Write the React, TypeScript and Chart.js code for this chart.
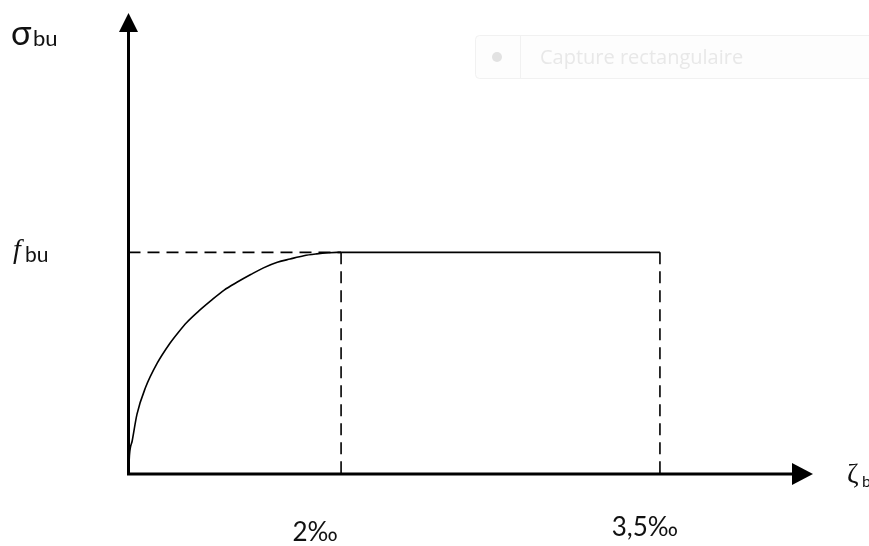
import React, { useEffect, useRef } from "react";
import { Chart, registerables, LinearScale } from "chart.js";

// ---- data (strain in ‰, stress as fraction of fbu) ----
const curveStrain = [0, 0.01, 0.035, 0.08, 0.16, 0.27, 0.39, 0.47, 0.55, 0.66, 0.77, 0.9, 1.02, 1.15, 1.27, 1.4, 1.52, 1.65, 1.77, 1.88, 1.96, 2];
const curveStress = [0, 0.09, 0.15, 0.27, 0.39, 0.5, 0.59, 0.64, 0.685, 0.735, 0.78, 0.83, 0.865, 0.9, 0.93, 0.955, 0.97, 0.985, 0.993, 0.998, 1.0, 1];
const plateauStrain = [2, 3.5];
const plateauStress = [1, 1];
const xTickValues = [2, 3.5];
const xTickLabels = ["2‰", "3,5‰"];
const yTickValue = 1;
const X_AXIS_END = 4.22;
const Y_AXIS_END = 2.08;

// schematic axis: beyond 2‰ the drawing is stretched
const SPLIT = 2;
const STRETCH = 2;
const warp = (v: number) => (v <= SPLIT ? v : SPLIT + (v - SPLIT) * STRETCH);

class WarpScale extends LinearScale {
  static id = "warp";
  static defaults = LinearScale.defaults;
  getPixelForValue(value: number) {
    return super.getPixelForValue(warp(value));
  }
}

Chart.register(...registerables, WarpScale);

const pts = (xs: number[], ys: number[]) => xs.map((x, i) => ({ x, y: ys[i] }));

const drawPlugin = {
  id: "schematic",
  beforeDraw(chart: any) {
    const ctx = chart.ctx;
    ctx.save();
    // faint ghost "capture" toolbar
    ctx.fillStyle = "#fdfdfd";
    ctx.strokeStyle = "#f1f1f1";
    ctx.lineWidth = 1;
    ctx.beginPath();
    ctx.roundRect(475.5, 35.5, 420, 43, 4);
    ctx.fill();
    ctx.stroke();
    ctx.beginPath();
    ctx.moveTo(520.5, 36);
    ctx.lineTo(520.5, 78);
    ctx.stroke();
    ctx.fillStyle = "#e2e2e2";
    ctx.beginPath();
    ctx.arc(497, 57, 5, 0, Math.PI * 2);
    ctx.fill();
    ctx.fillStyle = "#e8e8e8";
    ctx.font = '20px "Open Sans"';
    ctx.textBaseline = "alphabetic";
    ctx.fillText("Capture rectangulaire", 540, 64);
    ctx.restore();
  },
  afterDatasetsDraw(chart: any) {
    const ctx = chart.ctx;
    const xs = chart.scales.x;
    const ys = chart.scales.y;
    const x0 = xs.getPixelForValue(0);
    const y0 = ys.getPixelForValue(0);
    const xEnd = xs.getPixelForValue(X_AXIS_END);
    const yEnd = ys.getPixelForValue(Y_AXIS_END);
    ctx.save();
    ctx.strokeStyle = "#000";
    ctx.fillStyle = "#000";
    ctx.lineWidth = 3;
    ctx.setLineDash([]);
    // axes
    ctx.beginPath();
    ctx.moveTo(x0, y0 + 1);
    ctx.lineTo(x0, yEnd + 15);
    ctx.moveTo(x0 - 1.5, y0);
    ctx.lineTo(xEnd - 16, y0);
    ctx.stroke();
    // arrowheads
    ctx.beginPath();
    ctx.moveTo(x0, yEnd);
    ctx.lineTo(x0 - 9.5, yEnd + 19);
    ctx.lineTo(x0 + 9.5, yEnd + 19);
    ctx.closePath();
    ctx.fill();
    ctx.beginPath();
    ctx.moveTo(xEnd, y0);
    ctx.lineTo(xEnd - 21, y0 - 11);
    ctx.lineTo(xEnd - 21, y0 + 11);
    ctx.closePath();
    ctx.fill();

    // labels
    ctx.textBaseline = "alphabetic";
    ctx.fillStyle = "#111";
    ctx.textAlign = "left";
    ctx.font = '34px "Lato"';
    ctx.fillText("σ", 11, 45);
    ctx.font = '22px "Lato"';
    ctx.fillText("bu", 33, 46);

    const yf = ys.getPixelForValue(yTickValue);
    ctx.font = 'italic 28px "Liberation Serif"';
    ctx.fillText("f", 13, yf + 6);
    ctx.font = '21px "Lato"';
    ctx.fillText("bu", 25, yf + 10);

    ctx.textAlign = "center";
    ctx.font = '26px "Lato"';
    const offsX = [-26, -15];
    const offsY = [67, 62];
    xTickValues.forEach((v, i) => {
      const px = xs.getPixelForValue(v);
      ctx.fillText(xTickLabels[i], px + offsX[i], y0 + offsY[i]);
    });

    ctx.textAlign = "left";
    ctx.font = '28px "Liberation Serif"';
    ctx.fillText("ζ", 847, y0 + 9);
    ctx.font = '16px "Lato"';
    ctx.fillText("bc", 862, y0 + 13);
    ctx.restore();
  },
};

export default function App() {
  const ref = useRef<HTMLCanvasElement>(null);
  useEffect(() => {
    if (!ref.current) return;
    const line = { borderColor: "#000", borderWidth: 1.6, pointRadius: 0, fill: false, clip: false as any };
    const dash = { ...line, borderDash: [12, 7] };
    const chart = new Chart(ref.current, {
      type: "line",
      data: {
        datasets: [
          { ...line, data: pts(curveStrain, curveStress), cubicInterpolationMode: "monotone" },
          { ...line, data: pts(plateauStrain, plateauStress) },
          { ...dash, data: pts([0, xTickValues[0]], [yTickValue, yTickValue]) },
          { ...dash, data: pts([xTickValues[0], xTickValues[0]], [yTickValue, 0]) },
          { ...dash, data: pts([xTickValues[1], xTickValues[1]], [yTickValue, 0]) },
        ],
      },
      options: {
        animation: false,
        responsive: false,
        events: [],
        layout: { padding: { left: 128.5, right: 56, top: 13, bottom: 72 } },
        plugins: { legend: { display: false }, tooltip: { enabled: false } },
        scales: {
          x: { type: "warp" as any, min: 0, max: warp(X_AXIS_END), display: false },
          y: { type: "linear", min: 0, max: Y_AXIS_END, display: false },
        },
      },
      plugins: [drawPlugin],
    });
    return () => chart.destroy();
  }, []);
  return (
    <div style={{ position: "absolute", left: 0, top: 0, width: 869, height: 546, background: "#fff" }}>
      <canvas ref={ref} width={869} height={546} />
    </div>
  );
}
